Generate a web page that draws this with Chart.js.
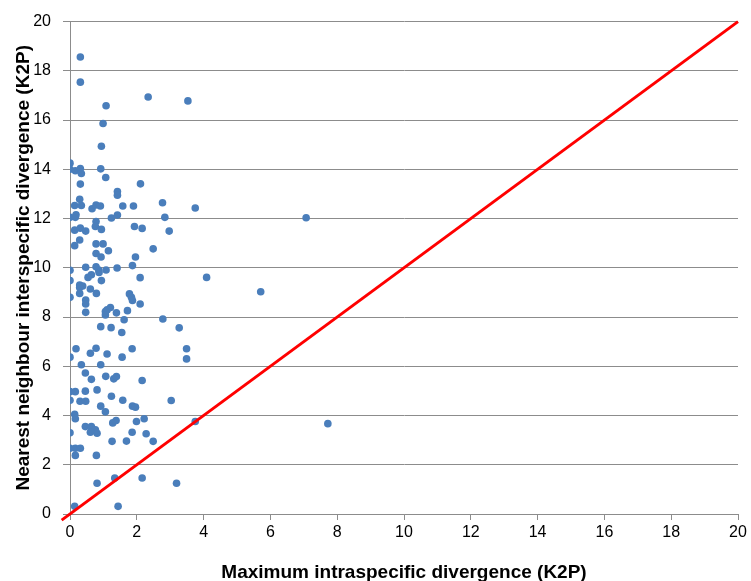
<!DOCTYPE html>
<html>
<head>
<meta charset="utf-8">
<script src="https://cdn.jsdelivr.net/npm/chart.js@4/dist/chart.umd.min.js"></script>
<style>
  html, body { margin: 0; padding: 0; background: #fff; }
  #wrap { width: 751px; height: 581px; }
</style>
</head>
<body>
<div id="wrap"><canvas id="c" width="751" height="581"></canvas></div>
<script>
// Maximum intraspecific divergence (K2P)
const xValues = [
  0.31, 0.31, 1.08, 2.34, 3.53, 0.99, 0.94, 0.00, 0.00, 0.16,
  0.31, 0.34, 0.92, 1.07, 0.31, 2.11, 1.42, 1.42, 0.29, 0.14,
  0.34, 0.66, 0.78, 0.91, 1.58, 1.90, 2.77, 3.75, 0.00, 0.16,
  0.18, 1.24, 1.42, 2.84, 7.07, 0.78, 0.76, 0.14, 0.31, 0.47,
  0.94, 1.93, 2.16, 2.97, 0.29, 0.14, 0.78, 0.99, 0.78, 0.93,
  1.15, 2.49, 1.96, 0.00, 0.47, 0.78, 0.86, 1.08, 1.41, 1.87,
  0.87, 0.64, 0.54, 0.00, 0.94, 2.10, 4.09, 5.71, 0.29, 0.38,
  0.29, 0.29, 0.61, 0.79, 0.00, 1.78, 1.84, 1.87, 2.10, 0.47,
  0.47, 0.47, 1.21, 1.11, 1.06, 1.06, 1.39, 1.72, 1.62, 2.78,
  3.27, 0.92, 1.23, 1.55, 0.18, 0.78, 1.86, 3.49, 3.49, 0.00,
  0.61, 1.11, 1.56, 0.34, 0.92, 0.46, 0.64, 1.07, 1.31, 1.39,
  2.16, 0.00, 0.16, 0.46, 0.81, 0.00, 0.30, 0.47, 1.24, 1.58,
  1.87, 1.96, 3.03, 0.92, 1.06, 0.14, 0.16, 1.38, 1.28, 1.99,
  2.22, 3.75, 7.72, 0.46, 0.64, 0.76, 0.61, 0.81, 0.00, 1.86,
  2.28, 1.26, 1.69, 2.49, 0.00, 0.16, 0.31, 0.16, 0.79, 1.34,
  2.16, 0.81, 3.19, 0.14, 1.44
];
// Nearest neighbour interspecific divergence (K2P)
const yValues = [
  18.56, 17.54, 16.58, 16.94, 16.78, 15.86, 14.94, 14.25, 14.00, 13.94,
  14.03, 13.83, 14.02, 13.67, 13.40, 13.41, 13.10, 12.95, 12.78, 12.53,
  12.53, 12.40, 12.55, 12.51, 12.51, 12.51, 12.64, 12.43, 12.05, 12.05,
  12.15, 12.02, 12.14, 12.05, 12.03, 11.88, 11.68, 11.53, 11.61, 11.49,
  11.56, 11.68, 11.60, 11.49, 11.13, 10.90, 10.97, 10.97, 10.58, 10.44,
  10.69, 10.77, 10.44, 9.90, 10.02, 10.04, 9.91, 9.91, 9.99, 10.09,
  9.81, 9.72, 9.61, 9.48, 9.48, 9.60, 9.61, 9.03, 9.30, 9.26,
  9.20, 8.96, 9.14, 8.96, 8.80, 8.94, 8.80, 8.67, 8.53, 8.69,
  8.53, 8.19, 8.39, 8.29, 8.22, 8.08, 8.17, 8.26, 7.89, 7.92,
  7.56, 7.61, 7.57, 7.37, 6.71, 6.73, 6.71, 6.71, 6.30, 6.37,
  6.53, 6.50, 6.37, 6.06, 6.06, 5.73, 5.47, 5.59, 5.49, 5.58,
  5.42, 4.97, 4.97, 4.99, 5.04, 4.62, 4.58, 4.58, 4.78, 4.62,
  4.38, 4.34, 4.61, 4.38, 4.15, 4.05, 3.87, 3.80, 3.70, 3.76,
  3.87, 3.76, 3.67, 3.55, 3.55, 3.42, 3.32, 3.28, 3.30, 3.32,
  3.26, 2.95, 2.96, 2.95, 2.67, 2.67, 2.67, 2.38, 2.38, 1.46,
  1.46, 1.25, 1.25, 0.31, 0.31
];
// 1:1 reference line (x = y)
const lineX = [-0.25, 20];
const lineY = [-0.25, 20];
// Tick values
const tickValues = [0, 2, 4, 6, 8, 10, 12, 14, 16, 18, 20];

const xTitle = 'Maximum intraspecific divergence (K2P)';
const yTitle = 'Nearest neighbour interspecific divergence (K2P)';

const scatterData = xValues.map((x, i) => ({ x: x, y: yValues[i] }));
const lineData = lineX.map((x, i) => ({ x: x, y: lineY[i] }));

const tickFont = { family: "'Liberation Sans', Arial, sans-serif", size: 16 };
const titleFont = { family: "'Liberation Sans', Arial, sans-serif", size: 19, weight: 'bold', lineHeight: 0.9 };
const gridColor = '#8c8c8c';

new Chart(document.getElementById('c'), {
  type: 'scatter',
  data: {
    datasets: [
      {
        data: lineData,
        type: 'line',
        showLine: true,
        borderColor: '#ff0000',
        borderWidth: 3,
        pointRadius: 0,
        fill: false,
        clip: false,
        order: 0
      },
      {
        data: scatterData,
        backgroundColor: '#4a7ebb',
        borderColor: '#4a7ebb',
        borderWidth: 0,
        pointRadius: 3.8,
        order: 1
      }
    ]
  },
  options: {
    responsive: false,
    animation: false,
    devicePixelRatio: 1,
    layout: { padding: { top: 20, right: 13, left: 0, bottom: 0 } },
    plugins: {
      legend: { display: false },
      tooltip: { enabled: false }
    },
    scales: {
      x: {
        type: 'linear',
        min: 0,
        max: 20,
        afterBuildTicks: (s) => { s.ticks = tickValues.map(v => ({ value: v })); },
        afterFit: (s) => { s.height = 67; },
        ticks: { font: tickFont, color: '#000', padding: 3, maxRotation: 0 },
        grid: { drawOnChartArea: false, color: gridColor, tickLength: 6, tickColor: gridColor },
        border: { display: true, color: gridColor, width: 1 },
        title: { display: true, text: xTitle, font: titleFont, color: '#000', padding: { top: 14, bottom: 0 } }
      },
      y: {
        type: 'linear',
        min: 0,
        max: 20,
        afterBuildTicks: (s) => { s.ticks = tickValues.map(v => ({ value: v })); },
        afterFit: (s) => { s.width = 70; },
        ticks: { font: tickFont, color: '#000', padding: 12 },
        grid: { drawOnChartArea: true, color: gridColor, tickLength: 7, tickColor: gridColor, lineWidth: 1 },
        border: { display: true, color: gridColor, width: 1 },
        title: { display: true, text: yTitle, font: titleFont, color: '#000', padding: { top: 15, bottom: 0 } }
      }
    }
  }
});
</script>
</body>
</html>
